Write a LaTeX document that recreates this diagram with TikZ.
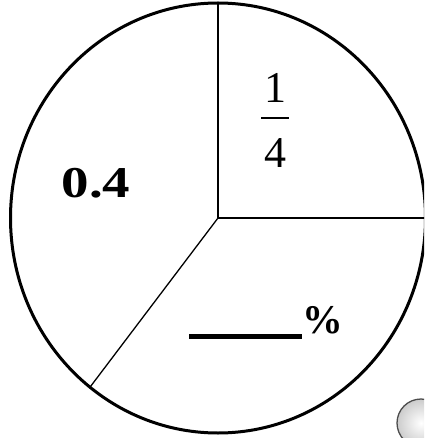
\documentclass[tikz,border=0pt]{standalone}
\usepackage{fontspec}
\setmainfont{Liberation Serif}
\usepackage{graphicx}
\usetikzlibrary{positioning}

\tikzset{
  rim/.style={line width=3pt},
  spoke/.style={line width=1.3pt},
  numlbl/.style={inner sep=0pt, font=\fontsize{44}{48}\selectfont},
  boldlbl/.style={inner sep=0pt, font=\fontsize{44}{48}\selectfont\bfseries},
  blanklbl/.style={inner sep=0pt, font=\fontsize{37}{40}\selectfont\bfseries},
}

\begin{document}
\begin{tikzpicture}[x=1pt,y=-1pt]
  \useasboundingbox (0,0) rectangle (424,438);
  \clip (0,0) rectangle (424,438);
  % centre of the pie and where the three cuts meet the rim
  \coordinate (O) at (218,218);
  \coordinate (top) at (218,2);
  \coordinate (right) at (426,218);
  \coordinate (lowleft) at (90.5,386.5);
  \draw[spoke] (O) -- (top);
  \draw[spoke] (O) -- (right);
  \draw[spoke] (O) -- (lowleft);
  \draw[rim] (O) ellipse [x radius=207.5pt, y radius=215pt];
  % fraction 1/4
  \coordinate (bar) at (275,118);
  \node[numlbl, above=15pt of bar] (num) {1};
  \node[numlbl, below=20pt of bar] (den) {4};
  \draw[line width=1.3pt] ([xshift=-14pt]bar) -- ([xshift=14pt]bar);
  % decimal
  \node[boldlbl] (dec) at (96,183) {\scalebox{1.25}[1]{0.4}};
  % blank to fill in
  \node[blanklbl, anchor=base west] (pct) at (189,333)
    {\rule[-6pt]{113pt}{5.5pt}\scalebox{1.1}{\%}};
  % grey button, cut by the edge
  \shadedraw[draw=gray!60!black, line width=1.3pt, inner color=white, outer color=gray!40]
    (421,423) circle [radius=24pt];
\end{tikzpicture}
\end{document}
